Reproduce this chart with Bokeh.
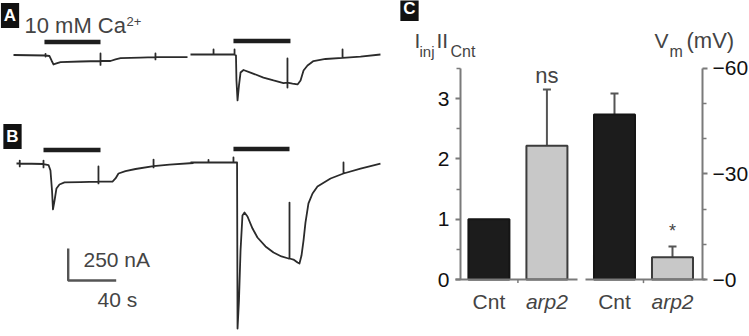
from bokeh.plotting import figure
from bokeh.models import Range1d, Label, LinearAxis, FixedTicker, ColumnDataSource, Whisker, TeeHead
from bokeh.embed import file_html
from bokeh.resources import INLINE

# ---------------- Panels A/B: current traces (t in s from trace start, i in nA vs baseline)
a1_t = [0, 26.7, 26.7, 26.7, 26.7, 30, 31.7, 33.3, 35.8, 39.2, 55.8, 72.5, 72.5, 72.5, 72.5,
        80.8, 85, 89.2, 105.8, 118.3, 118.3, 118.3, 118.3, 145]
a1_i = [4, 0, 13, -8, 0, -4, -39, -70, -62, -51, -47, -43, 16, -74, -43,
        -43, -31, -20, -16, -12, 16, -31, -12, -12]

a2_t = [0, 19.2, 19.2, 19.2, 36.7, 36.7, 36.7, 37.9, 38.3, 39.2, 40.4, 41.7, 44.2, 50, 60.8,
        69.2, 77.5, 80.8, 80.8, 80.8, 80.8, 85, 89.2, 91.7, 94.2, 97.5, 102.5, 112.5, 126.7,
        126.7, 126.7, 141.7, 158.3]
a2_i = [0, 0, 39, 0, 0, 39, 0, -8, -203, -359, -242, -141, -121, -141, -180,
        -203, -223, -219, -31, -258, -219, -227, -234, -203, -125, -86, -51, -35, -27,
        39, -27, -16, 0]

b1_t = [0, 2.7, 2.7, 2.7, 2.7, 22.5, 22.5, 22.5, 22.5, 26.7, 28.3, 29.6, 30.4, 31.7, 33.3,
        35.8, 40, 53.3, 68.3, 68.3, 68.3, 68.3, 80, 82.5, 85, 90.8, 99.2, 114.2, 114.2, 114.2,
        114.2, 127.5, 147.5]
b1_i = [0, 0, 23, -23, 0, -4, 23, -31, -4, -12, -55, -211, -359, -289, -195,
        -164, -148, -145, -141, -23, -156, -141, -141, -117, -78, -59, -43, -20, 31, -31,
        -20, -8, 4]

b2_t = [0, 15, 15, 15, 35.8, 35.8, 35.8, 38.8, 39.2, 40.4, 41.7, 43.3, 45, 47.5, 51.7, 55.8,
        62.5, 69.2, 75.8, 81.7, 82.5, 82.5, 82.5, 85.8, 89.2, 90.8, 92.5, 94.2, 95.8, 98.3,
        101.7, 105.8, 116.7, 127.5, 127.5, 127.5, 141.7, 158.3]
b2_i = [0, 0, 20, 0, 0, 39, 0, 0, -1297, -1078, -688, -414, -391, -422, -516, -586,
        -656, -703, -734, -750, -750, -313, -750, -758, -781, -789, -727, -609, -469, -320,
        -242, -188, -125, -86, 0, -86, -47, -8]

# 10 mM Ca2+ application windows (s from trace start)
ca_windows = [(25.8, 72.5), (35.8, 83.3), (22.5, 70.0), (35.8, 82.5)]

# scale bar values
scale_t = 40    # s
scale_i = 250   # nA

# ---------------- Panel C: bars
cats = ["Cnt", "arp2", "Cnt", "arp2"]
iinj_vals = [1.0, 2.22]
iinj_err = [0.0, 0.93]
vm_vals = [46.9, 6.3]      # |Vm| in mV
vm_err = [6.0, 3.1]

# ---------------- layout (reference pixels)
W, H = 749, 336
PX_S = 1.2          # px per second
NA_PX = 7.8125      # nA per px
X0C, PXU = 460, 58  # panel C: x origin (left axis) and px per bar unit
Y0C, PYU = 279, 60.29  # panel C: y of zero and px per I unit
VM_K = 60 / 3.5
FONT = "Liberation Sans"
TRACE_C = "#2b2b2b"
AX_C = "#7a7a7a"

def L(xr, yr):          # px -> trace coordinates (s, nA)
    return xr / PX_S, -yr * NA_PX

def C(xr, yr):          # px -> panel-C coordinates
    return (xr - X0C) / PXU, (Y0C - yr) / PYU

xl, yt = C(0, 0)
xr_, yb = C(W, H)
p = figure(width=W, height=H, x_range=Range1d(xl, xr_), y_range=Range1d(yb, yt),
           output_backend="svg", toolbar_location=None, min_border=0,
           x_axis_location=None, y_axis_location=None)
p.grid.visible = False
p.outline_line_color = None
p.extra_x_ranges = {"t": Range1d(0, W / PX_S)}
p.extra_y_ranges = {"na": Range1d(-H * NA_PX, 0), "vm": Range1d(yb * VM_K, yt * VM_K)}

# ---- traces
placements = [(13, 55), (190, 54), (16, 163), (190, 162)]
traces = [(a1_t, a1_i), (a2_t, a2_i), (b1_t, b1_i), (b2_t, b2_i)]
for (xp, yp), (tt, ii), (c0, c1) in zip(placements, traces, ca_windows):
    x0, y0 = L(xp, yp)
    p.line([x0 + t for t in tt], [y0 + v for v in ii], line_color=TRACE_C, line_width=1.8,
           line_join="round", x_range_name="t", y_range_name="na")
    p.segment(x0=[x0 + c0], x1=[x0 + c1], y0=[y0 + 13.5 * NA_PX], y1=[y0 + 13.5 * NA_PX],
              line_color="#1e1e1e", line_width=4.5, x_range_name="t", y_range_name="na")

cx, cy = L(67.7, 280)
p.line([cx, cx, cx + scale_t], [cy + scale_i, cy, cy], line_color="#555555", line_width=2.4,
       x_range_name="t", y_range_name="na")

# ---- bars
xpos = [0.49, 1.49, 2.655, 3.655]
bw = 0.707
dark, light = "#1c1c1c", "#c8c8c8"
p.vbar(x=xpos[:2], top=iinj_vals, width=bw, bottom=0, fill_color=[dark, light],
       line_color=["#151515", "#3c3c3c"], line_width=2)
p.vbar(x=xpos[2:], top=vm_vals, width=bw, bottom=0, fill_color=[dark, light],
       line_color=["#151515", "#3c3c3c"], line_width=2, y_range_name="vm")

s1 = ColumnDataSource(dict(x=xpos[1:2], lo=iinj_vals[1:2],
                           hi=[v + e for v, e in zip(iinj_vals[1:2], iinj_err[1:2])]))
s2 = ColumnDataSource(dict(x=xpos[2:], lo=vm_vals, hi=[v + e for v, e in zip(vm_vals, vm_err)]))
for src, rn in ((s1, "default"), (s2, "vm")):
    p.add_layout(Whisker(source=src, base="x", lower="lo", upper="hi", line_color="#555555",
                         line_width=2, lower_head=None,
                         upper_head=TeeHead(size=8, line_color="#555555", line_width=2),
                         y_range_name=rn, level="underlay"))

# broken baseline with two small group ticks
bx = [C(455, 0)[0], C(577, 0)[0], C(585, 0)[0], C(705, 0)[0]]
p.segment(x0=[bx[0], bx[2]], x1=[bx[1], bx[3]], y0=[0, 0], y1=[0, 0], line_color=AX_C, line_width=2)
gt = [(xpos[0] + xpos[1]) / 2, (xpos[2] + xpos[3]) / 2]
p.segment(x0=gt, x1=gt, y0=[0, 0], y1=[-0.06, -0.06], line_color=AX_C, line_width=1.5)

# ---- axes at fixed locations
ya = LinearAxis(fixed_location=0, bounds=(0, 3.5),
                ticker=FixedTicker(ticks=[0, 1, 2, 3], minor_ticks=[0.5, 1.5, 2.5, 3.5]))
ra = LinearAxis(y_range_name="vm", fixed_location=C(702, 0)[0], bounds=(0, 60),
                ticker=FixedTicker(ticks=[0, 30, 60], minor_ticks=[10, 20, 40, 50]),
                major_label_overrides={0: "\u22120", 30: "\u221230", 60: "\u221260"})
p.add_layout(ya, "left")
p.add_layout(ra, "right")
for ax, so in ((ya, 6), (ra, 5)):
    ax.axis_line_color = AX_C
    ax.axis_line_width = 2
    ax.major_tick_line_color = AX_C
    ax.minor_tick_line_color = AX_C
    ax.major_tick_line_width = 2
    ax.minor_tick_line_width = 1.5
    ax.major_tick_out = 5
    ax.major_tick_in = 0
    ax.minor_tick_out = 4
    ax.minor_tick_in = 0
    ax.major_label_text_font = FONT
    ax.major_label_text_font_size = "21px"
    ax.major_label_text_color = "#111111"
    ax.major_label_standoff = so

# ---- texts
def lab(text, xr, yr, size, align="left", **kw):
    x, y = C(xr, yr)
    p.add_layout(Label(x=x, y=y, text=text, text_font=FONT, text_font_size=size,
                       text_align=align, text_baseline="middle", **kw))

box = dict(text_color="white", text_font_style="bold", background_fill_color="#111111", padding=3)
lab("A", 9.5, 15, "17px", align="center", **box)
lab("B", 12, 136, "17px", align="center", **box)
lab("C", 409, 8, "17px", align="center", **box)
lab("10 mM Ca", 24, 25, "22px")
lab("2+", 126, 21, "13px")
lab("250 nA", 83, 258.5, "21px")
lab("40 s", 97, 299, "21px")

for c, x in zip(cats, xpos):
    lab(c, X0C + x * PXU, 301, "21px", align="center",
        text_font_style="italic" if c == "arp2" else "normal")
lab("ns", X0C + xpos[1] * PXU, 75, "22px", align="center")
lab("*", X0C + xpos[3] * PXU, 230, "18px", align="center")
lab("I", 414, 40, "21px")
lab("inj", 419, 51, "15px")
lab("II", 436, 40, "21px")
lab("Cnt", 450, 51, "16px")
lab("V", 654, 40, "21px")
lab("m", 669, 51, "16px")
lab("(mV)", 686, 40, "22px")

open("out.html", "w").write(file_html(p, INLINE))
